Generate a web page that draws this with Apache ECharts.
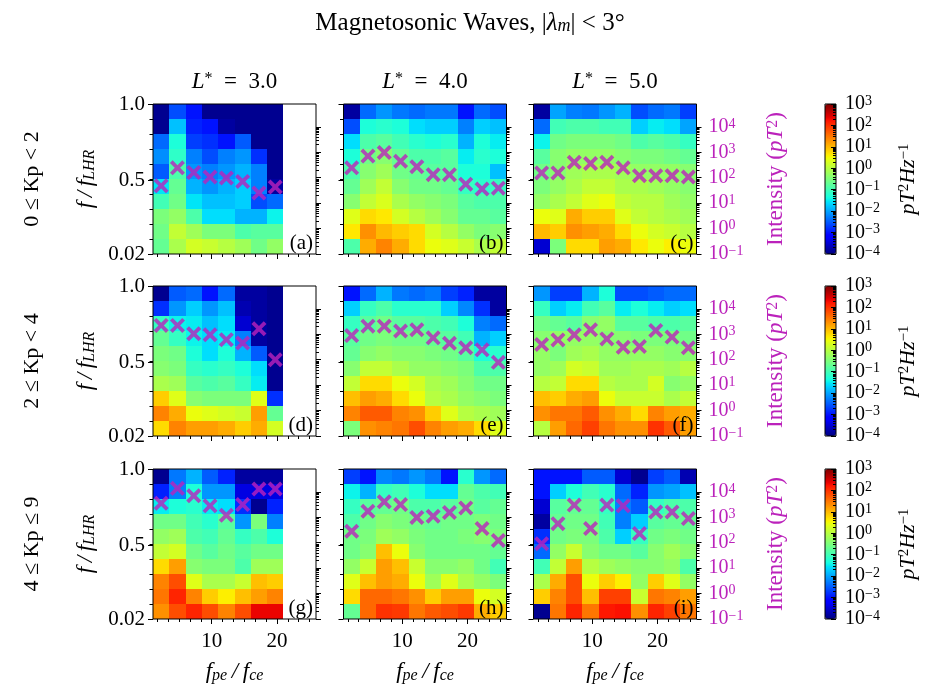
<!DOCTYPE html>
<html><head><meta charset="utf-8">
<script src="https://cdn.jsdelivr.net/npm/echarts@6/dist/echarts.min.js"></script>
<style>html,body{margin:0;padding:0;background:#fff}#c{width:929px;height:688px}</style>
</head><body><div id="c"></div>
<script>
// ---------------- DATA ----------------
// f_pe/f_ce bin edges (x) and f/f_LHR bin edges (y)
const xBinEdges = [1, 3.5, 6, 8.5, 11, 13.5, 16, 18.5, 21, 23.5, 26];
const yBinEdges = [0.02, 0.118, 0.216, 0.314, 0.412, 0.51, 0.608, 0.706, 0.804, 0.902, 1.0];
const xMajorTicks = [10, 20];
const xMinorTicks = [1.67, 3.33, 5, 6.67, 8.33, 11.67, 13.33, 15, 16.67, 18.33, 21.67, 23.33, 25];
const yMajorTicks = [0.02, 0.5, 1.0];
const intensityDecades = [-1, 0, 1, 2, 3, 4];      // log10 of intensity tick labels (pT^2)
const psdDecades = [-4, -3, -2, -1, 0, 1, 2, 3];    // log10 colour bar ticks (pT^2 Hz^-1)
const rowLabels = ['0 ≤ Kp < 2', '2 ≤ Kp < 4', '4 ≤ Kp ≤ 9'];
const colLabels = ['3.0', '4.0', '5.0'];
const panelLetters = ['(a)','(b)','(c)','(d)','(e)','(f)','(g)','(h)','(i)'];

// log10 PSD (pT^2/Hz), rows listed from top (f/f_LHR = 1.0) to bottom (0.02)
const psd_a = [
 [-3.9,-2.6,-3.0,-3.9,-3.9,-3.9,-3.9,-3.9],
 [-3.9,-1.8,-2.9,-3.0,-3.8,-3.9,-3.9,-3.9],
 [-2.4,-1.3,-2.7,-2.8,-3.0,-2.5,-3.9,-3.9],
 [-2.15,-1.15,-2.25,-2.6,-2.25,-2.1,-2.8,-3.9],
 [-2.5,-0.9,-2.1,-2.25,-2.1,-1.9,-2.25,-3.9],
 [-1.55,-0.7,-1.9,-2.1,-1.9,-1.7,-2.25,-3.8],
 [-1.0,-0.6,-1.55,-1.8,-1.8,-1.7,-2.6,-2.4],
 [-0.5,-0.3,-0.9,-1.6,-1.6,-1.9,-1.9,-1.45],
 [-0.6,0.1,-0.2,-0.5,-0.5,-0.9,-0.8,-0.8],
 [-0.7,-0.1,0.25,0.15,0.0,-0.2,-0.6,-0.3]
];
const psd_b = [
 [-3.8,-2.4,-2.1,-2.3,-2.4,-2.3,-2.3,-3.0,-2.4,-2.6],
 [-2.6,-1.3,-1.2,-1.3,-1.6,-1.7,-1.7,-2.25,-1.7,-1.8],
 [-1.6,-0.9,-0.8,-1.0,-1.2,-1.3,-1.2,-1.9,-1.3,-1.5],
 [-1.3,-0.6,-0.4,-0.7,-0.9,-0.9,-0.8,-1.5,-1.2,-1.3],
 [-0.9,-0.4,-0.2,-0.6,-0.7,-0.8,-0.8,-1.3,-1.3,-1.8],
 [-0.7,-0.2,0.1,-0.4,-0.6,-0.6,-0.7,-1.1,-1.2,-1.1],
 [-0.4,0.1,0.3,-0.1,-0.3,-0.4,-0.5,-0.8,-0.9,-0.9],
 [0.35,0.75,0.65,0.25,0.0,-0.2,-0.4,-0.7,-0.7,-0.8],
 [0.65,1.3,1.0,0.85,0.75,0.25,0.0,-0.3,-0.5,-0.4],
 [-0.9,1.1,1.4,1.1,0.75,0.45,0.35,0.15,-0.1,0.1]
];
const psd_c = [
 [-3.8,-2.0,-2.25,-2.3,-2.1,-1.9,-2.6,-2.4,-2.3,-2.7],
 [-2.4,-1.0,-0.9,-0.9,-1.0,-1.0,-1.7,-1.5,-1.6,-2.0],
 [-1.45,-0.6,-0.5,-0.5,-0.5,-0.6,-0.9,-0.8,-0.9,-1.1],
 [-0.8,-0.4,-0.3,-0.3,-0.3,-0.4,-0.5,-0.5,-0.6,-0.7],
 [-0.6,-0.4,-0.2,-0.1,-0.1,-0.2,-0.3,-0.3,-0.3,-0.4],
 [-0.5,-0.3,-0.1,0.1,0.1,-0.1,-0.1,-0.2,-0.3,-0.4],
 [-0.3,-0.1,0.1,0.35,0.45,0.1,0.0,0.0,-0.2,-0.3],
 [0.45,0.35,1.1,0.85,0.85,0.35,0.1,0.0,-0.1,-0.2],
 [1.0,0.85,1.3,1.2,1.1,0.75,0.45,0.25,0.15,0.0],
 [-3.5,-0.5,0.75,0.75,1.2,1.1,0.65,0.45,0.6,0.45]
];
const psd_d = [
 [-3.9,-2.5,-2.4,-3.0,-2.4,-3.8,-3.8,-3.9],
 [-2.8,-2.1,-1.7,-2.1,-1.8,-3.7,-3.8,-3.9],
 [-1.1,-1.45,-1.5,-1.8,-1.6,-3.5,-3.8,-3.9],
 [-0.7,-1.1,-1.45,-1.6,-1.5,-2.25,-3.8,-3.9],
 [-0.5,-0.6,-1.3,-1.6,-1.3,-1.9,-2.5,-3.9],
 [-0.4,-0.5,-1.1,-1.2,-1.1,-1.3,-1.6,-3.9],
 [-0.1,-0.2,-0.8,-0.9,-0.8,-1.1,-1.5,-3.9],
 [0.85,0.35,-0.4,-0.5,-0.5,-0.5,0.35,-2.8],
 [1.4,1.1,0.45,0.35,0.25,0.15,1.2,-0.7],
 [0.75,1.4,1.2,1.2,1.1,0.85,1.1,0.25]
];
const psd_e = [
 [-3.0,-2.4,-1.9,-2.3,-2.4,-2.3,-2.7,-2.9,-3.8,-3.8],
 [-1.7,-1.1,-0.9,-1.2,-1.2,-1.2,-1.7,-2.2,-2.8,-3.8],
 [-1.1,-0.8,-0.6,-0.8,-0.8,-0.9,-1.0,-1.3,-2.25,-2.4],
 [-0.8,-0.6,-0.5,-0.6,-0.6,-0.7,-0.8,-1.0,-1.9,-1.7],
 [-0.7,-0.4,-0.3,-0.4,-0.4,-0.5,-0.6,-0.8,-1.3,-1.2],
 [-0.4,0.1,0.1,-0.1,-0.3,-0.3,-0.4,-0.5,-0.9,-0.9],
 [0.1,0.75,0.75,0.45,0.25,-0.1,-0.2,-0.4,-0.6,-0.6],
 [0.95,1.2,1.1,0.75,0.45,0.0,-0.1,-0.3,-0.4,-0.5],
 [1.4,1.7,1.7,1.4,1.3,0.85,0.35,0.0,-0.1,-0.2],
 [-0.5,1.3,1.4,1.5,1.8,1.4,1.2,1.1,0.75,0.35]
];
const psd_f = [
 [-2.1,-2.7,-2.7,-1.9,-1.3,-2.6,-2.6,-2.5,-2.4,-2.4],
 [-1.1,-1.7,-1.5,-1.0,-0.8,-1.5,-1.3,-1.5,-1.7,-1.6],
 [-0.6,-0.7,-0.8,-0.4,-0.3,-0.8,-0.8,-0.9,-0.9,-0.8],
 [-0.4,-0.3,-0.3,-0.3,-0.4,-0.4,-0.5,-0.5,-0.5,-0.6],
 [-0.3,-0.5,-0.2,-0.1,-0.3,-0.3,-0.3,-0.3,-0.4,-0.4],
 [-0.3,-0.2,0.25,0.15,-0.2,-0.2,-0.1,-0.1,-0.2,0.0],
 [0.0,0.1,0.75,0.75,0.0,-0.1,-0.1,0.25,-0.4,-0.3],
 [0.95,0.85,1.1,1.2,0.45,0.15,0.15,0.15,-0.1,0.1],
 [1.3,1.5,1.5,1.7,1.3,1.1,0.75,1.4,1.2,1.1],
 [0.0,1.2,1.6,1.9,1.5,1.3,1.3,2.0,1.7,1.2]
];
const psd_g = [
 [-3.9,-2.3,-1.9,-2.5,-2.9,-3.8,-3.8,-3.8],
 [-2.9,-2.25,-1.3,-2.1,-2.1,-3.4,-3.4,-3.4],
 [-1.5,-1.3,-1.2,-1.5,-1.6,-2.8,-3.9,-2.9],
 [-0.6,-0.6,-1.0,-1.2,-0.8,-2.1,-0.5,-2.25],
 [-0.3,-0.2,-0.9,-1.0,-0.7,-1.1,-0.9,-1.3],
 [0.1,0.25,-0.6,-0.8,-0.6,-0.8,-0.6,-0.6],
 [0.75,1.2,-0.4,-0.5,-0.5,-0.9,-0.2,-0.2],
 [1.4,1.8,0.35,-0.1,-0.1,0.15,0.95,0.85],
 [1.5,2.1,1.4,0.85,0.6,0.95,1.2,1.4],
 [1.3,1.8,2.1,1.8,1.4,1.8,2.35,2.35]
];
const psd_h = [
 [-2.7,-3.0,-2.2,-2.3,-2.1,-2.3,-3.0,-1.2,-2.1,-2.4],
 [-1.45,-1.9,-1.1,-1.0,-1.3,-1.6,-1.6,-0.7,-0.9,-1.0],
 [-1.1,-0.8,-0.7,-0.6,-0.9,-0.9,-0.8,-0.6,-0.8,-0.7],
 [-0.9,-0.6,-0.4,-0.5,-0.6,-0.7,-0.6,-0.6,-0.5,-0.6],
 [-0.6,-0.5,-0.2,-0.3,-0.5,-0.6,-0.6,-0.5,-0.4,-0.5],
 [-0.6,-0.4,0.95,0.45,-0.4,-0.6,-0.6,-0.6,-0.6,-0.7],
 [-0.3,0.15,1.2,0.95,0.15,-0.4,-0.4,-0.3,-0.6,-1.0],
 [0.35,0.95,1.2,1.1,0.45,-0.2,0.35,-0.1,-0.3,-0.5],
 [0.75,1.6,1.6,1.5,1.3,0.85,1.2,1.2,0.45,0.25],
 [-0.7,1.6,2.0,1.95,1.5,1.7,1.8,1.95,1.1,0.85]
];
const psd_i = [
 [-3.0,-3.0,-3.0,-2.5,-2.5,-3.5,-3.9,-2.7,-2.5,-3.7],
 [-3.0,-1.7,-1.3,-1.0,-1.2,-2.4,-2.9,-2.1,-2.0,-1.8],
 [-3.5,-0.8,-0.7,-0.7,-1.1,-2.25,-2.5,-1.1,-0.9,-0.9],
 [-3.8,-0.7,-0.6,-0.6,-1.0,-2.25,-1.7,-0.8,-0.7,-0.7],
 [-2.8,-0.6,-0.5,-0.5,-0.9,-1.7,-1.1,-0.6,-0.5,-0.6],
 [-2.4,-0.3,0.15,-0.4,-0.6,-0.6,-0.8,-0.4,-0.2,-0.4],
 [-1.0,0.1,1.2,0.0,-0.2,-0.3,-0.4,-0.4,-0.3,-0.9],
 [-0.1,1.1,1.8,0.45,0.85,0.6,-0.3,0.85,0.35,-0.3],
 [0.85,1.4,1.8,0.95,1.9,1.9,0.15,1.5,1.4,1.2],
 [-3.9,1.5,2.1,1.5,2.2,2.25,1.3,2.1,1.9,1.5]
];
// integrated intensity (pT^2), one per f_pe/f_ce bin
const int_a = [48, 245, 162, 107, 98, 71, 25, 43];
const int_b = [245, 708, 977, 447, 269, 132, 132, 56, 36, 39];
const int_c = [155, 155, 407, 363, 407, 245, 120, 120, 120, 107];
const int_d = [2239, 2239, 1047, 955, 617, 457, 1660, 100];
const int_e = [891, 2089, 2089, 1349, 1514, 724, 447, 295, 245, 79];
const int_f = [398, 603, 955, 1514, 661, 309, 331, 1413, 776, 295];
const int_g = [3548, 13800, 7079, 2818, 1202, 3162, 12900, 12900];
const int_h = [282, 1738, 4074, 3162, 977, 1096, 1549, 2344, 363, 123];
const int_i = [91, 562, 3020, 363, 3020, 2818, 229, 1622, 1622, 891];

const psdPanels = [psd_a, psd_b, psd_c, psd_d, psd_e, psd_f, psd_g, psd_h, psd_i];
const intPanels = [int_a, int_b, int_c, int_d, int_e, int_f, int_g, int_h, int_i];

// ---------------- STYLE / LAYOUT ----------------
const SERIF = "'Liberation Serif','DejaVu Serif',serif";
const MAG = '#bb22bb';
const colLeft = [153, 343.5, 533.5], rowTop = [104, 286, 469], PW = 163, PH = 150;
const X_MIN = 1, X_MAX = 26, Y_MIN = 0.02, Y_MAX = 1.0, I_MIN = -1, I_MAX = 4.9;

function jet(t){
  const f = pts => { for (let i = 1; i < pts.length; i++) { if (t <= pts[i][0]) { const [x0,y0] = pts[i-1], [x1,y1] = pts[i]; return y0 + (y1-y0)*(t-x0)/(x1-x0); } } return pts[pts.length-1][1]; };
  const r = f([[0,0],[0.35,0],[0.66,1],[0.89,1],[1,0.5]]);
  const g = f([[0,0],[0.125,0],[0.375,1],[0.64,1],[0.91,0],[1,0]]);
  const b = f([[0,0.5],[0.11,1],[0.34,1],[0.65,0],[1,0]]);
  return 'rgb(' + Math.round(r*255) + ',' + Math.round(g*255) + ',' + Math.round(b*255) + ')';
}
const jetColors = Array.from({length: 121}, (_, i) => jet(i/120));

function minorLog(decs){ const out = []; decs.slice(0, -1).forEach(n => { for (let k = 2; k <= 9; k++) out.push(n + Math.log10(k)); }); return out; }
const iMinor = minorLog(intensityDecades.concat([5])).filter(v => v < 4);
const cMinor = minorLog(psdDecades);
const yMinor = yBinEdges.slice(1, -1);

function powLabel(v){ const n = Math.round(v); return '{b|10}{e|' + (n < 0 ? '\u2212' + (-n) : n) + '}'; }
const powRich = (col) => ({ b: {fontFamily: SERIF, fontSize: 20, color: col}, e: {fontFamily: SERIF, fontSize: 14, color: col, verticalAlign: 'top', padding: [0,0,6,0]} });
const noLine = {show: false, onZero: false};

const grids = [], xAxes = [], yAxes = [], series = [], visualMaps = [], graphics = [];

psdPanels.forEach((psd, p) => {
  const r = Math.floor(p / 3), c = p % 3;
  grids.push({left: colLeft[c], top: rowTop[r], width: PW, height: PH, show: true, borderColor: '#000', borderWidth: 1, backgroundColor: 'transparent', z: 10});
  const xi = xAxes.length, yi = yAxes.length;
  xAxes.push({type: 'value', gridIndex: p, min: X_MIN, max: X_MAX, position: 'bottom', z: 10,
    axisLine: noLine, splitLine: {show: false},
    axisTick: {show: true, customValues: xMajorTicks, length: 5, lineStyle: {color: '#000'}},
    axisLabel: {show: r === 2, customValues: xMajorTicks, margin: 12, color: '#000', fontFamily: SERIF, fontSize: 21}});
  xAxes.push({type: 'value', gridIndex: p, min: X_MIN, max: X_MAX, position: 'bottom', z: 10,
    axisLine: noLine, splitLine: {show: false},
    axisTick: {show: true, customValues: xMinorTicks, length: 3, lineStyle: {color: '#000'}},
    axisLabel: {show: false}});
  yAxes.push({type: 'value', gridIndex: p, min: Y_MIN, max: Y_MAX, position: 'left', z: 10,
    axisLine: noLine, splitLine: {show: false},
    axisTick: {show: true, customValues: yMajorTicks, length: 5, lineStyle: {color: '#000'}},
    axisLabel: {show: c === 0, customValues: yMajorTicks, margin: 8, color: '#000', fontFamily: SERIF, fontSize: 21,
      formatter: v => (v < 0.1 ? '0.02' : v.toFixed(1))}});
  yAxes.push({type: 'value', gridIndex: p, min: Y_MIN, max: Y_MAX, position: 'left', z: 10,
    axisLine: noLine, splitLine: {show: false},
    axisTick: {show: true, customValues: yMinor, length: 3.5, lineStyle: {color: '#000'}},
    axisLabel: {show: false}});
  yAxes.push({type: 'value', gridIndex: p, min: I_MIN, max: I_MAX, position: 'right', z: 10,
    axisLine: noLine, splitLine: {show: false},
    axisTick: {show: true, customValues: intensityDecades, length: 5, lineStyle: {color: '#000'}},
    axisLabel: {show: c === 2, customValues: intensityDecades, margin: 12, formatter: powLabel, rich: powRich(MAG)}});
  yAxes.push({type: 'value', gridIndex: p, min: I_MIN, max: I_MAX, position: 'right', z: 10,
    axisLine: noLine, splitLine: {show: false},
    axisTick: {show: true, customValues: iMinor, length: 3, lineStyle: {color: '#000'}},
    axisLabel: {show: false}});

  const cells = [];
  psd.forEach((row, i) => {
    const k = psd.length - 1 - i;
    row.forEach((v, j) => cells.push([xBinEdges[j], xBinEdges[j+1], yBinEdges[k], yBinEdges[k+1], v]));
  });
  series.push({type: 'custom', coordinateSystem: 'cartesian2d', xAxisIndex: xi, yAxisIndex: yi, z: 2,
    encode: {x: [0, 1], y: [2, 3]}, data: cells, silent: true,
    renderItem: (params, api) => {
      const a = api.coord([api.value(0), api.value(2)]);
      const b = api.coord([api.value(1), api.value(3)]);
      const x0 = Math.round(a[0]), x1 = Math.round(b[0]), y0 = Math.round(b[1]), y1 = Math.round(a[1]);
      return {type: 'rect', shape: {x: x0, y: y0, width: x1 - x0, height: y1 - y0}, style: {fill: api.visual('color')}};
    }});
  const pts = intPanels[p].map((v, j) => [(xBinEdges[j] + xBinEdges[j+1]) / 2, Math.log10(v)]);
  series.push({type: 'scatter', xAxisIndex: xi, yAxisIndex: yi + 2, z: 20, silent: true, clip: false,
    symbol: 'path://M1.8,0 L5,3.2 L8.2,0 L10,1.8 L6.8,5 L10,8.2 L8.2,10 L5,6.8 L1.8,10 L0,8.2 L3.2,5 L0,1.8 Z',
    symbolSize: 15, itemStyle: {color: MAG}, data: pts});

  graphics.push({type: 'text', x: colLeft[c] + PW - 3, y: rowTop[r] + PH, z: 30,
    style: {text: panelLetters[p], font: '21px ' + SERIF, fill: '#000', align: 'right', verticalAlign: 'bottom'}});
});

// colour bars
[0, 1, 2].forEach(r => {
  visualMaps.push({type: 'continuous', min: -4, max: 3, dimension: 4, seriesIndex: [6*r, 6*r + 2, 6*r + 4],
    inRange: {color: jetColors}, left: 825, top: rowTop[r], itemWidth: 11, itemHeight: PH, calculable: false,
    padding: 0, hoverLink: false, realtime: false, z: 4});
  const gi = grids.length;
  grids.push({left: 825, top: rowTop[r], width: 11, height: PH, show: true, borderColor: '#000', borderWidth: 1, backgroundColor: 'transparent', z: 10});
  xAxes.push({type: 'value', gridIndex: gi, show: false, min: 0, max: 1, axisLine: noLine});
  yAxes.push({type: 'value', gridIndex: gi, min: -4, max: 3, position: 'right', z: 10,
    axisLine: noLine, splitLine: {show: false},
    axisTick: {show: true, inside: true, customValues: psdDecades, length: 5, lineStyle: {color: '#000'}},
    axisLabel: {show: true, customValues: psdDecades, margin: 9, formatter: powLabel, rich: powRich('#000')}});
  yAxes.push({type: 'value', gridIndex: gi, min: -4, max: 3, position: 'right', z: 10,
    axisLine: noLine, splitLine: {show: false},
    axisTick: {show: true, inside: true, customValues: cMinor, length: 3, lineStyle: {color: '#000'}},
    axisLabel: {show: false}});
});

// texts
const rich = (col, s) => ({
  n: {fontFamily: SERIF, fontSize: s, fill: col},
  i: {fontFamily: SERIF, fontSize: s, fontStyle: 'italic', fill: col},
  sp: {fontFamily: SERIF, fontSize: Math.round(s*0.7), fill: col, verticalAlign: 'top'},
  sb: {fontFamily: SERIF, fontSize: Math.round(s*0.7), fontStyle: 'italic', fill: col, verticalAlign: 'bottom'}
});
function txt(x, y, text, col, s, rot){
  graphics.push({type: 'text', x: x, y: y, rotation: rot || 0, z: 30,
    style: {text: text, rich: rich(col, s), font: s + 'px ' + SERIF, fill: col, align: 'center', verticalAlign: 'middle'}});
}
const SP = '\u2002', QS = '\u2005';
txt(470, 23, '{n|Magnetosonic Waves, |}{i|λ}{sb|m}{n||' + QS + '<' + QS + '3°}', '#000', 25);
const rowMid = rowTop.map(t => t + PH / 2);
const colMid = colLeft.map(l => l + PW / 2);
colMid.forEach((x, c) => {
  txt(x, 82, '{i|L}{sp|*}{n|' + SP + '=' + SP + colLabels[c] + '}', '#000', 23);
  txt(x, 672, '{i|f}{sb|pe}{i|\u2009/\u2009f}{sb|ce}', '#000', 23);
});
rowMid.forEach((y, r) => {
  txt(32, y, '{n|' + rowLabels[r] + '}', '#000', 22, Math.PI / 2);
  txt(86, y, '{i|f\u2009/\u2009f}{sb|LHR}', '#000', 23, Math.PI / 2);
  txt(776, y, '{n|Intensity (}{i|pT}{sp|2}{n|)}', MAG, 23, Math.PI / 2);
  txt(908, y, '{i|pT}{sp|2}{i|Hz}{sp|\u22121}', '#000', 22, Math.PI / 2);
});

const chart = echarts.init(document.getElementById('c'), null, {renderer: 'canvas'});
chart.setOption({
  animation: false,
  backgroundColor: '#fff',
  grid: grids, xAxis: xAxes, yAxis: yAxes, visualMap: visualMaps, series: series, graphic: graphics
});
</script></body></html>
